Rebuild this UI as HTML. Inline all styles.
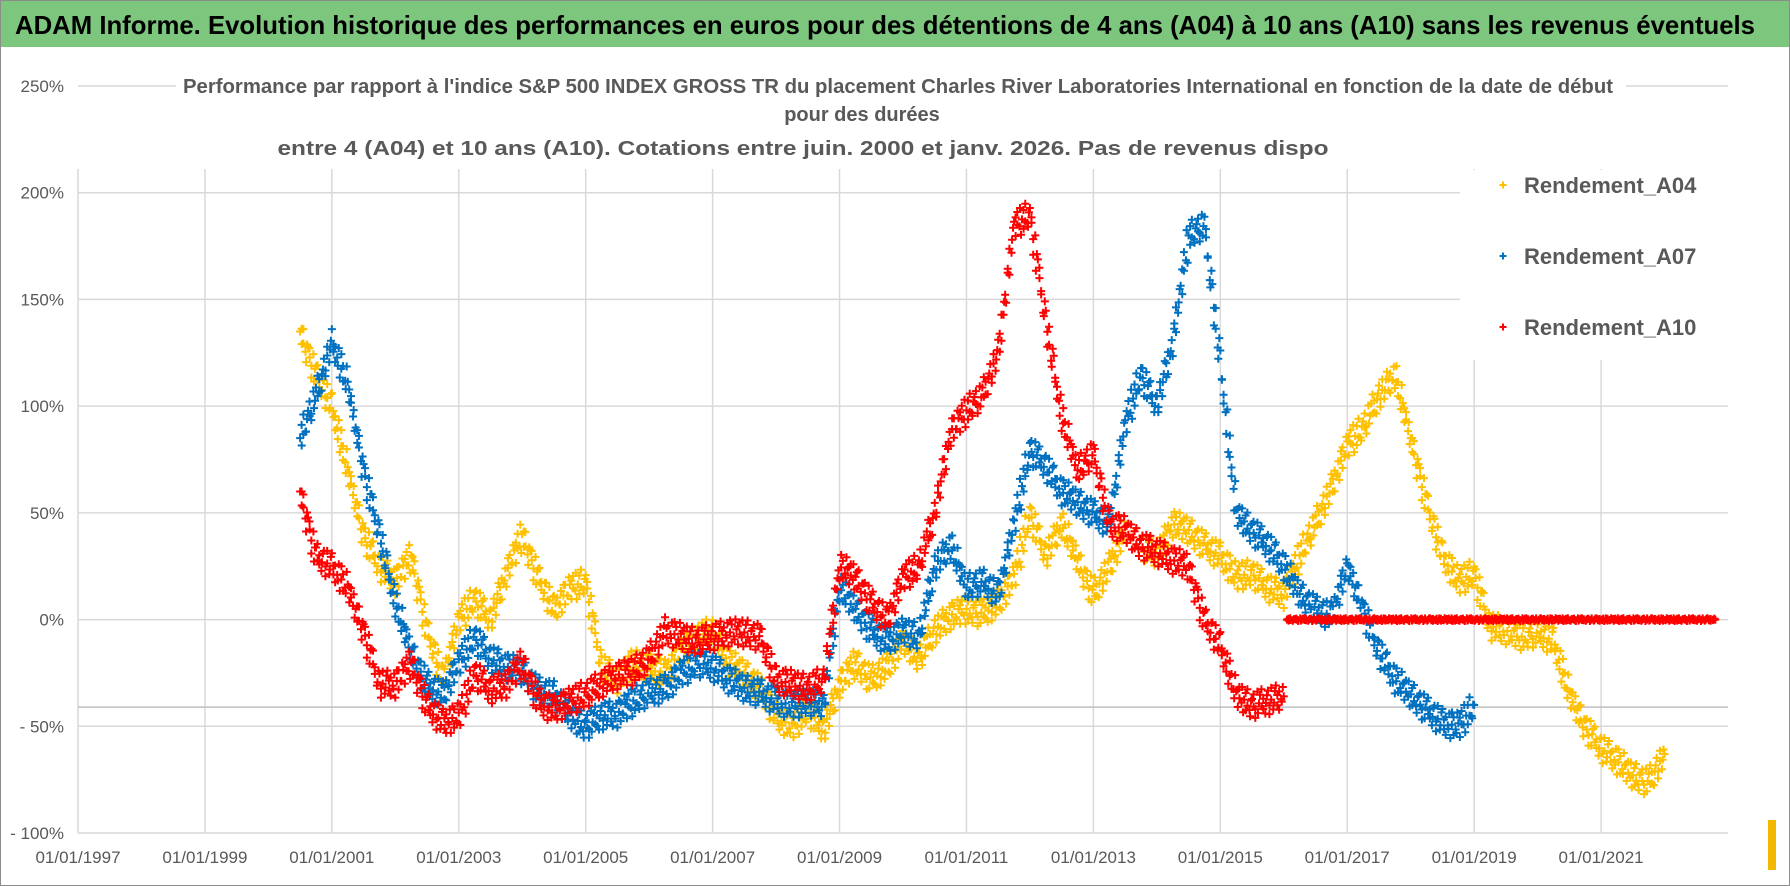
<!DOCTYPE html>
<html><head><meta charset="utf-8"><style>
html,body{margin:0;padding:0;background:#fff;}
svg{display:block;font-family:"Liberation Sans Narrow","Liberation Sans",sans-serif;}
</style></head><body>
<svg id="chart" width="1790" height="886" viewBox="0 0 1790 886" xmlns="http://www.w3.org/2000/svg">
<rect x="0.5" y="0.5" width="1789" height="885" fill="#fff" stroke="#8c8c8c"/>
<rect x="1" y="1" width="1788" height="46" fill="#7dc67e"/>
<text x="15" y="34" font-size="26" font-weight="bold" fill="#000" textLength="1740" lengthAdjust="spacingAndGlyphs">ADAM Informe. Evolution historique des performances en euros pour des détentions de 4 ans (A04) à 10 ans (A10) sans les revenus éventuels</text>
<g id="grid"></g>
<g id="marks"></g>
<rect x="176" y="66" width="1450" height="102" fill="#fff"/>
<rect x="1460" y="170" width="270" height="190" fill="#fff"/>
<g fill="#595959" font-weight="bold" font-size="20" text-anchor="middle">
<text x="898" y="93" textLength="1430" lengthAdjust="spacingAndGlyphs">Performance par rapport à l'indice S&amp;P 500 INDEX GROSS TR  du placement Charles River Laboratories International en fonction de la date de début</text>
<text x="862" y="121">pour des durées</text>
<text x="803" y="155" textLength="1051" lengthAdjust="spacingAndGlyphs">entre 4 (A04) et 10 ans (A10).  Cotations entre juin. 2000 et janv. 2026. Pas de revenus dispo</text>
</g>
<g id="legend"></g>
<g id="yticks"></g>
<g id="xticks"></g>
<rect x="1768" y="820" width="8" height="50" fill="#f2b800"/>
</svg>
<script>
const yTicks = [250,200,150,100,50,0,-50,-100];
const xTickYears = [1997,1999,2001,2003,2005,2007,2009,2011,2013,2015,2017,2019,2021];
const refLineValue = -41;
const seriesNames = ["Rendement_A04","Rendement_A07","Rendement_A10"];
const seriesColors = ["#ffc000","#0070c0","#ff0000"];
const step = 0.25;
const a04Start = 2000.5;
const a04 = [135,115,100,70,40,25,18,30,-5,-28,0,10,0,22,40,20,5,15,18,-22,-28,-20,-22,-25,-15,-8,-5,-20,-25,-32,-45,-50,-42,-52,-30,-20,-28,-22,-10,-18,-5,2,5,3,8,20,50,30,45,28,12,25,42,35,30,45,42,35,30,20,22,15,12,30,45,62,82,90,105,115,85,55,30,18,22,-3,-5,-8,-6,-10,-35,-50,-60,-66,-73,-76,-63];
const a07Start = 2000.5;
const a07 = [85,105,130,110,70,40,8,-15,-30,-35,-20,-8,-18,-22,-24,-33,-35,-45,-50,-45,-44,-38,-34,-32,-25,-20,-22,-28,-32,-34,-38,-40,-38,-40,15,5,-5,-10,-5,-8,25,35,15,18,12,45,80,72,60,55,50,45,92,115,100,130,180,185,120,50,42,35,25,12,5,2,25,5,-15,-28,-35,-42,-48,-50,-40];
const a10Start = 2000.5;
const a10 = [60,30,25,15,-5,-30,-30,-20,-40,-48,-45,-25,-33,-30,-20,-38,-42,-38,-35,-30,-26,-24,-18,-5,-8,-10,-8,-6,-6,-8,-28,-30,-32,-28,25,20,8,0,20,25,50,88,98,105,125,185,190,140,95,70,78,45,42,35,32,28,25,0,-12,-35,-40,-38,-36];
const a10ZeroStart = 2016.05;
const a10Zero = [0,0,0,0,0,0,0,0,0,0,0,0,0,0,0,0,0,0,0,0,0,0,0,0,0,0,0,0];

const NS="http://www.w3.org/2000/svg";
const X0=78, X1=1728, Y0=833, Y1=86, YEAR0=1997, YEAR1=2023, VMIN=-100, VMAX=250;
function xs(yr){return X0+(yr-YEAR0)/(YEAR1-YEAR0)*(X1-X0);}
function ys(v){return Y0-(v-VMIN)/(VMAX-VMIN)*(Y0-Y1);}
function mk(tag,attrs,parent){const e=document.createElementNS(NS,tag);for(const k in attrs)e.setAttribute(k,attrs[k]);parent.appendChild(e);return e;}

const grid=document.getElementById('grid');
yTicks.forEach(v=>{
  const l=mk('line',{x1:X0,x2:X1,y1:ys(v),y2:ys(v),stroke:'#d9d9d9','stroke-width':1.5},grid);
  
  
});
xTickYears.forEach(yr=>{
  const l=mk('line',{x1:xs(yr),x2:xs(yr),y1:169,y2:Y0,stroke:'#d9d9d9','stroke-width':1.5},grid);
  
  
});
const rl=mk('line',{x1:X0,x2:X1,y1:ys(refLineValue),y2:ys(refLineValue),stroke:'#bfbfbf','stroke-width':1.5},grid);



const yt=document.getElementById('yticks');
yTicks.forEach(v=>{
  const t=mk('text',{x:64,y:ys(v)+6,'text-anchor':'end','font-size':17,fill:'#595959'},yt);
  t.textContent=(v<0?'- '+(-v):v)+'%';
  
  
});
const xt=document.getElementById('xticks');
xTickYears.forEach(yr=>{
  const t=mk('text',{x:xs(yr),y:863,'text-anchor':'middle','font-size':17,fill:'#595959'},xt);
  t.textContent='01/01/'+yr;
  
  
});

const marks=document.getElementById('marks');
const jy=[0,10,-8,4,-13,7,-3,12,-6,2,-10,5,14,-12];
const jx=[0,0.6,-0.5,0.3,-0.7,0.4,1,-1];
function plus(g,x,y,c,s){
  const p=mk('path',{d:`M${x-s},${y}h${2*s}M${x},${y-s}v${2*s}`,stroke:c,'stroke-width':2,fill:'none'},g);
  
  
}
function drawSeries(name,start,vals,color,per,amp){
  const g=mk('g',{},marks);
  
  
  let k=0;
  for(let i=0;i<vals.length;i++){
    const xa=xs(start+i*step), ya=ys(vals[i]);
    if(i===vals.length-1){plus(g,xa,ya,color,4);break;}
    const xb=xs(start+(i+1)*step), yb=ys(vals[i+1]);
    for(let j=0;j<per;j++){
      const f=j/per;
      plus(g,xa+(xb-xa)*f+jx[k%jx.length],ya+(yb-ya)*f+jy[k%jy.length]*amp,color,4);
      k++;
    }
  }
}
drawSeries('series-a04',a04Start,a04,seriesColors[0],16,1);
drawSeries('series-a07',a07Start,a07,seriesColors[1],16,1);
drawSeries('series-a10',a10Start,a10,seriesColors[2],16,1);
drawSeries('series-a10-zero',a10ZeroStart,a10Zero,seriesColors[2],16,0.1);

const lg=document.getElementById('legend');
seriesNames.forEach((n,i)=>{
  const y=185+i*71;
  const g=mk('g',{},lg);
  
  
  plus(g,1503,y,seriesColors[i],3.5);
  const t=mk('text',{x:1524,y:y+8,'font-size':22,'font-weight':'bold',fill:'#595959'},g);
  t.textContent=n;
  
  
});
</script>
</body></html>
